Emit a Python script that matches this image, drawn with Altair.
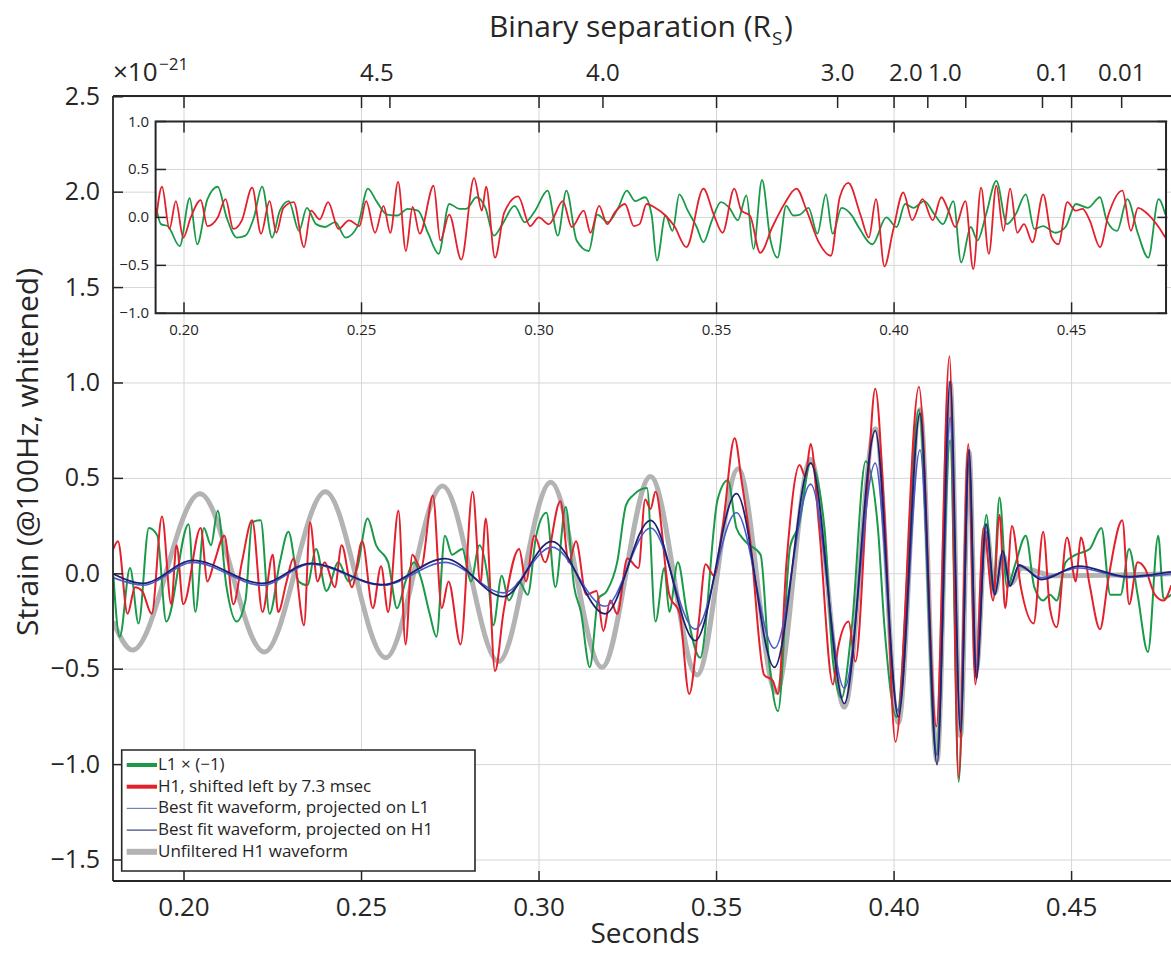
import altair as alt
import pandas as pd

FONT = "Open Sans"
INK = "#262626"
GRID = "#d6d6d6"

SERIES = ["L1 × (−1)", "H1, shifted left by 7.3 msec",
          "Best fit waveform, projected on L1", "Best fit waveform, projected on H1",
          "Unfiltered H1 waveform"]
COLORS = ["#1a9a48", "#e3202b", "#4a5cc4", "#1f2072", "#b3b3b3"]
WIDTHS = [2.0, 2.0, 1.6, 1.8, 5.0]
LEGEND_COLORS = ["#1a9a48", "#e3202b", "#7180c2", "#3d4080", "#b3b3b3"]
LEGEND_WIDTHS = [4.0, 4.0, 1.2, 1.2, 6.0]

# ---- main panel (seconds, strain x1e-21) ----
L1_MAIN = [(0.1801,-0.01),(0.1819,-0.33),(0.1848,0.03),(0.1872,-0.26),(0.1901,0.24),(0.1925,0.20),(0.1950,-0.25),(0.2013,0.26),(0.2032,-0.20),(0.2056,0.24),(0.2076,0.15),(0.2095,0.33),(0.2119,-0.06),(0.2148,-0.25),(0.2173,-0.14),(0.2192,0.27),(0.2216,0.28),(0.2241,-0.21),(0.2270,0.06),(0.2294,0.22),(0.2323,-0.04),(0.2347,-0.06),(0.2372,0.13),(0.2401,-0.09),(0.2435,0.06),(0.2464,-0.04),(0.2488,0.03),(0.2517,0.29),(0.2541,0.15),(0.2575,0.06),(0.2600,-0.18),(0.2624,-0.04),(0.2648,0.06),(0.2667,-0.02),(0.2692,-0.21),(0.2711,-0.33),(0.2735,0.20),(0.2755,0.10),(0.2784,0.13),(0.2808,-0.04),(0.2832,0.15),(0.2857,-0.04),(0.2871,-0.27),(0.2895,-0.01),(0.2915,-0.14),(0.2944,-0.04),(0.2968,-0.11),(0.2992,0.20),(0.3021,0.32),(0.3046,-0.07),(0.3075,0.35),(0.3099,-0.07),(0.3118,-0.20),(0.3143,-0.49),(0.3167,-0.13),(0.3191,-0.09),(0.3220,0.06),(0.3245,0.36),(0.3264,0.41),(0.3304,0.45),(0.3328,-0.25),(0.3353,0.03),(0.3367,-0.20),(0.3391,0.06),(0.3416,-0.20),(0.3454,-0.44),(0.3503,0.39),(0.3532,0.49),(0.3556,0.24),(0.3581,0.17),(0.3624,0.10),(0.3648,-0.46),(0.3673,-0.72),(0.3707,0.14),(0.3731,0.25),(0.3765,0.58),(0.3804,0.24),(0.3828,-0.46),(0.3852,-0.65),(0.3881,-0.28),(0.3920,0.59),(0.3954,0.25),(0.3973,-0.28),(0.4007,-0.75),(0.4070,0.86),(0.4119,-0.95),(0.4158,0.70),(0.4182,-1.09),(0.4211,0.58),(0.4230,-0.54),(0.4260,0.31),(0.4279,-0.09),(0.4297,0.40),(0.4318,-0.07),(0.4343,0.06),(0.4371,0.20),(0.4395,-0.07),(0.4420,-0.14),(0.4439,-0.11),(0.4458,-0.14),(0.4483,0.06),(0.4512,0.10),(0.4551,0.13),(0.4584,0.24),(0.4609,-0.11),(0.4638,-0.11),(0.4662,0.13),(0.4686,-0.11),(0.4715,-0.41),(0.4744,0.20),(0.4759,-0.13),(0.4781,-0.11)]

H1_MAIN = [(0.1801,0.13),(0.1814,0.17),(0.1841,-0.21),(0.1862,-0.07),(0.1882,-0.09),(0.1909,-0.21),(0.1938,0.30),(0.1964,-0.16),(0.1979,0.15),(0.1998,-0.16),(0.2047,0.24),(0.2066,-0.04),(0.2085,0.06),(0.2114,0.20),(0.2139,-0.16),(0.2163,0.06),(0.2192,0.28),(0.2221,-0.20),(0.2250,0.10),(0.2265,-0.20),(0.2289,-0.04),(0.2308,0.08),(0.2338,-0.27),(0.2355,0.27),(0.2376,-0.04),(0.2396,0.06),(0.2425,-0.07),(0.2444,0.15),(0.2473,-0.07),(0.2502,0.17),(0.2532,-0.18),(0.2555,0.04),(0.2575,-0.20),(0.2604,0.33),(0.2624,-0.37),(0.2643,0.10),(0.2667,0.03),(0.2701,0.41),(0.2726,-0.18),(0.2745,-0.04),(0.2779,-0.37),(0.2813,0.43),(0.2835,-0.05),(0.2850,0.29),(0.2876,-0.51),(0.2900,-0.20),(0.2944,0.13),(0.2963,-0.04),(0.2987,0.20),(0.3017,0.06),(0.3060,0.38),(0.3084,0.06),(0.3104,0.17),(0.3133,-0.11),(0.3162,-0.09),(0.3181,-0.30),(0.3201,-0.14),(0.3220,-0.21),(0.3249,0.08),(0.3280,0.03),(0.3299,0.39),(0.3314,0.34),(0.3328,0.43),(0.3367,-0.11),(0.3396,-0.21),(0.3423,-0.63),(0.3450,-0.25),(0.3469,0.05),(0.3493,-0.01),(0.3517,0.24),(0.3551,0.71),(0.3571,0.48),(0.3595,0.17),(0.3634,-0.53),(0.3658,-0.56),(0.3673,-0.63),(0.3697,0.06),(0.3734,0.57),(0.3750,0.51),(0.3765,0.68),(0.3789,0.24),(0.3828,-0.58),(0.3842,-0.39),(0.3872,-0.25),(0.3891,-0.46),(0.3925,0.45),(0.3947,0.97),(0.3973,0.31),(0.4004,-0.88),(0.4070,0.98),(0.4119,-0.80),(0.4156,1.14),(0.4182,-1.07),(0.4209,0.68),(0.4229,-0.58),(0.4252,0.24),(0.4279,-0.14),(0.4297,0.31),(0.4313,-0.18),(0.4332,0.25),(0.4357,-0.07),(0.4393,-0.26),(0.4420,0.22),(0.4439,-0.18),(0.4458,-0.28),(0.4487,0.19),(0.4512,-0.04),(0.4526,0.19),(0.4551,-0.06),(0.4580,-0.29),(0.4604,-0.02),(0.4643,0.28),(0.4662,-0.16),(0.4686,0.06),(0.4706,0.03),(0.4735,-0.11),(0.4759,-0.14),(0.4781,-0.06)]

FIT_L1 = [(0.1800,-0.02),(0.1885,-0.06),(0.2025,0.06),(0.2220,-0.06),(0.2357,0.05),(0.2560,-0.06),(0.2735,0.06),(0.2900,-0.10),(0.3036,0.14),(0.3186,-0.17),(0.3314,0.24),(0.3440,-0.29),(0.3556,0.32),(0.3663,-0.39),(0.3765,0.47),(0.3860,-0.60),(0.3947,0.58),(0.4012,-0.72),(0.4073,0.65),(0.4121,-0.95),(0.4158,0.82),(0.4187,-0.80),(0.4211,0.60),(0.4232,-0.50),(0.4259,0.22),(0.4284,-0.10),(0.4306,0.10),(0.4327,-0.06),(0.4352,0.04),(0.4415,-0.02),(0.4520,0.03),(0.4657,-0.02),(0.4780,0.00)]

FIT_H1 = [(0.1800,0.00),(0.1885,-0.05),(0.2025,0.07),(0.2220,-0.05),(0.2357,0.055),(0.2560,-0.057),(0.2735,0.08),(0.2900,-0.12),(0.3036,0.17),(0.3186,-0.21),(0.3314,0.28),(0.3440,-0.35),(0.3556,0.42),(0.3663,-0.49),(0.3765,0.58),(0.3860,-0.68),(0.3947,0.75),(0.4012,-0.75),(0.4073,0.84),(0.4121,-1.00),(0.4158,1.01),(0.4187,-0.83),(0.4211,0.65),(0.4232,-0.55),(0.4259,0.26),(0.4284,-0.11),(0.4306,0.12),(0.4327,-0.065),(0.4352,0.047),(0.4415,-0.03),(0.4520,0.04),(0.4657,-0.015),(0.4780,0.01)]

UNFILTERED_H1 = [(0.1800,-0.25),(0.1855,-0.40),(0.2045,0.42),(0.2226,-0.41),(0.2398,0.43),(0.2568,-0.44),(0.2728,0.46),(0.2886,-0.46),(0.3033,0.48),(0.3177,-0.49),(0.3314,0.51),(0.3445,-0.53),(0.3561,0.55),(0.3668,-0.62),(0.3765,0.60),(0.3860,-0.70),(0.3947,0.76),(0.4012,-0.78),(0.4073,0.86),(0.4121,-0.98),(0.4158,1.00),(0.4187,-0.85),(0.4211,0.64),(0.4232,-0.50),(0.4259,0.25),(0.4284,-0.10),(0.4306,0.10),(0.4330,-0.05),(0.4360,0.03),(0.4450,-0.01),(0.4780,0.00)]

# ---- inset panel (its own -1..1 scale) ----
L1_INSET = [(0.1922,0.10),(0.1935,-0.07),(0.1954,-0.09),(0.1988,-0.30),(0.2016,0.20),(0.2037,-0.28),(0.2066,0.19),(0.2095,0.32),(0.2120,0.00),(0.2149,-0.21),(0.2173,-0.19),(0.2197,0.00),(0.2220,0.32),(0.2248,-0.21),(0.2270,0.07),(0.2295,0.17),(0.2324,-0.14),(0.2346,0.10),(0.2372,-0.07),(0.2397,-0.10),(0.2426,-0.05),(0.2455,-0.21),(0.2489,-0.09),(0.2518,0.30),(0.2542,0.17),(0.2572,0.03),(0.2601,0.02),(0.2630,0.09),(0.2659,0.07),(0.2688,-0.17),(0.2717,-0.38),(0.2747,0.14),(0.2776,0.09),(0.2795,0.09),(0.2824,0.21),(0.2849,0.10),(0.2873,-0.19),(0.2897,-0.07),(0.2931,0.12),(0.2960,-0.05),(0.2989,0.07),(0.3024,0.28),(0.3053,-0.19),(0.3077,0.28),(0.3106,-0.24),(0.3140,-0.35),(0.3164,0.03),(0.3194,-0.05),(0.3223,0.10),(0.3247,0.28),(0.3271,0.17),(0.3298,0.21),(0.3317,0.03),(0.3332,-0.45),(0.3356,0.02),(0.3376,-0.14),(0.3395,0.24),(0.3419,0.07),(0.3444,-0.10),(0.3463,-0.26),(0.3487,-0.03),(0.3512,0.16),(0.3536,0.10),(0.3560,-0.03),(0.3584,0.23),(0.3604,-0.33),(0.3628,0.39),(0.3652,-0.24),(0.3672,-0.42),(0.3696,0.12),(0.3716,0.02),(0.3735,0.03),(0.3759,0.10),(0.3784,-0.17),(0.3808,0.24),(0.3827,-0.17),(0.3852,0.10),(0.3881,0.02),(0.3900,-0.10),(0.3939,-0.28),(0.3978,0.00),(0.4007,-0.10),(0.4031,0.14),(0.4055,0.10),(0.4085,0.17),(0.4114,0.03),(0.4138,-0.07),(0.4167,0.17),(0.4189,-0.47),(0.4216,-0.10),(0.4235,-0.24),(0.4259,0.03),(0.4288,0.38),(0.4318,-0.07),(0.4342,0.03),(0.4371,0.24),(0.4395,-0.12),(0.4420,-0.09),(0.4454,-0.16),(0.4483,-0.10),(0.4512,0.14),(0.4546,0.10),(0.4580,0.21),(0.4599,-0.03),(0.4628,-0.14),(0.4657,0.19),(0.4687,-0.17),(0.4716,-0.42),(0.4745,0.19),(0.4764,0.03)]

H1_INSET = [(0.1922,0.00),(0.1938,0.32),(0.1959,-0.12),(0.1977,0.17),(0.1998,-0.21),(0.2019,0.00),(0.2047,0.18),(0.2066,-0.09),(0.2095,0.00),(0.2117,0.19),(0.2139,-0.12),(0.2163,-0.03),(0.2192,0.31),(0.2217,-0.17),(0.2241,0.17),(0.2260,-0.16),(0.2280,0.10),(0.2309,0.16),(0.2338,-0.31),(0.2358,0.07),(0.2382,-0.02),(0.2406,0.16),(0.2435,-0.12),(0.2465,-0.03),(0.2494,-0.09),(0.2513,0.17),(0.2538,-0.16),(0.2562,0.12),(0.2581,-0.16),(0.2603,0.37),(0.2625,-0.35),(0.2644,0.11),(0.2664,-0.17),(0.2703,0.33),(0.2722,-0.24),(0.2747,0.03),(0.2781,-0.44),(0.2817,0.41),(0.2839,0.07),(0.2851,0.32),(0.2876,-0.42),(0.2902,0.05),(0.2941,0.22),(0.2975,-0.09),(0.2999,0.00),(0.3028,-0.07),(0.3067,0.17),(0.3092,-0.10),(0.3126,0.07),(0.3145,-0.16),(0.3169,0.12),(0.3192,-0.07),(0.3213,0.05),(0.3242,0.14),(0.3267,-0.09),(0.3283,-0.07),(0.3303,0.14),(0.3327,0.10),(0.3356,0.02),(0.3381,-0.09),(0.3415,-0.31),(0.3463,0.30),(0.3492,0.03),(0.3517,-0.16),(0.3550,0.30),(0.3570,0.07),(0.3594,0.02),(0.3623,-0.37),(0.3657,-0.10),(0.3691,0.14),(0.3725,0.30),(0.3754,0.07),(0.3788,-0.26),(0.3822,-0.40),(0.3847,0.21),(0.3871,0.36),(0.3905,0.03),(0.3929,-0.21),(0.3949,0.19),(0.3973,-0.51),(0.3997,-0.14),(0.4026,0.26),(0.4051,-0.03),(0.4080,0.19),(0.4109,-0.03),(0.4133,0.21),(0.4153,0.07),(0.4172,-0.10),(0.4201,0.17),(0.4223,-0.54),(0.4245,0.31),(0.4267,-0.38),(0.4288,0.33),(0.4308,-0.14),(0.4327,0.30),(0.4347,-0.16),(0.4366,-0.07),(0.4390,-0.26),(0.4420,0.24),(0.4444,-0.21),(0.4463,-0.28),(0.4488,0.16),(0.4512,0.07),(0.4531,0.09),(0.4551,-0.03),(0.4580,-0.31),(0.4604,0.03),(0.4643,0.28),(0.4667,-0.14),(0.4687,0.10),(0.4716,0.03),(0.4745,-0.10),(0.4764,-0.21)]

# ---- axes / ticks ----
X_TICKS = [0.20, 0.25, 0.30, 0.35, 0.40, 0.45]
Y_TICKS = [-1.5, -1.0, -0.5, 0.0, 0.5, 1.0, 1.5, 2.0, 2.5]
INSET_Y_TICKS = [-1.0, -0.5, 0.0, 0.5, 1.0]
INSET_GRID_Y = [-0.5, 0.0, 0.5]
SEP_TICK_T = [0.2580, 0.3180, 0.3841, 0.4095, 0.4202, 0.4418, 0.4641]
SEP_LABEL_T = [0.2543, 0.3180, 0.3841, 0.4033, 0.4143, 0.4447, 0.4641]
SEP_LABELS = ["4.5", "4.0", "3.0", "2.0", "1.0", "0.1", "0.01"]

X_DOMAIN = [0.18, 0.478]
Y_DOMAIN = [-1.61, 2.504]
INSET_X = [0.192, 0.4766]
INSET_Y = [-1.0, 1.0]
# the inset's own y axis, expressed on the main y scale: centre and gain
INSET_CENTER = 1.8677
INSET_GAIN = 0.5026

W, H = 1058, 785
IN_L, IN_R, IN_T, IN_B = 43, 1054.3, 25.5, 217.3  # inset frame, plot pixels (for tick marks)
LEG_BOX = (8.7, 362, 654, 775)   # legend box in plot pixels
LEG_ROW0, LEG_ROW_STEP = 669, 21.7


def frame(name, pts):
    return pd.DataFrame({"t": [p[0] for p in pts], "v": [p[1] for p in pts], "series": name})


def inset_y(field):
    return f"{INSET_CENTER} + {INSET_GAIN} * datum.{field}"


def fmt(v, d):
    return f"{v:.{d}f}".replace("-", "−")


xs = alt.Scale(domain=X_DOMAIN, nice=False, zero=False)
ys = alt.Scale(domain=Y_DOMAIN, nice=False, zero=False)
X = lambda f="t": alt.X(f"{f}:Q", scale=xs, axis=None)
Y = lambda f="v": alt.Y(f"{f}:Q", scale=ys, axis=None)


def main_line(i, pts):
    return alt.Chart(frame(SERIES[i], pts)).mark_line(
        interpolate="monotone", clip=True, strokeJoin="round",
        color=COLORS[i], strokeWidth=WIDTHS[i]).encode(x=X(), y=Y())


xt = pd.DataFrame({"t": X_TICKS, "label": [fmt(t, 2) for t in X_TICKS]})
yt = pd.DataFrame({"v": Y_TICKS, "label": [fmt(v, 1) for v in Y_TICKS]})
sep_t = pd.DataFrame({"t": SEP_TICK_T})
sep_l = pd.DataFrame({"t": SEP_LABEL_T, "label": SEP_LABELS})
one = pd.DataFrame({"k": [0]})

# grid
grid_v = alt.Chart(xt).mark_rule(color=GRID, strokeWidth=1).encode(x=X(), y=alt.value(0), y2=alt.value(H))
grid_h = alt.Chart(yt).mark_rule(color=GRID, strokeWidth=1).encode(y=Y(), x=alt.value(0), x2=alt.value(W))

main_lines = [
    main_line(4, UNFILTERED_H1),
    main_line(0, L1_MAIN),
    main_line(1, H1_MAIN),
    main_line(2, FIT_L1),
    main_line(3, FIT_H1),
]

tick_style = dict(color=INK, strokeWidth=1.5)
frame_lines = [
    alt.Chart(one).mark_rule(color=INK, strokeWidth=1.8).encode(
        x=alt.value(0), y=alt.value(0), y2=alt.value(H)),
    alt.Chart(one).mark_rule(color=INK, strokeWidth=1.8).encode(
        y=alt.value(H), x=alt.value(0), x2=alt.value(W)),
    alt.Chart(one).mark_rule(color=INK, strokeWidth=2).encode(
        y=alt.value(0), x=alt.value(0), x2=alt.value(W)),
]
ticks = [
    alt.Chart(xt).mark_rule(**tick_style).encode(x=X(), y=alt.value(H), y2=alt.value(H - 10)),
    alt.Chart(xt).mark_rule(**tick_style).encode(x=X(), y=alt.value(0), y2=alt.value(12)),
    alt.Chart(sep_t).mark_rule(**tick_style).encode(x=X(), y=alt.value(0), y2=alt.value(12)),
    alt.Chart(yt).mark_rule(**tick_style).encode(y=Y(), x=alt.value(0), x2=alt.value(10)),
]
axis_text = [
    alt.Chart(xt).mark_text(font=FONT, fontSize=26, color=INK, baseline="middle").encode(
        x=X(), y=alt.value(H + 27), text="label:N"),
    alt.Chart(yt).mark_text(font=FONT, fontSize=25, color=INK, align="right", baseline="middle").encode(
        y=Y(), x=alt.value(-13), text="label:N"),
    alt.Chart(sep_l).mark_text(font=FONT, fontSize=24, color=INK, baseline="alphabetic").encode(
        x=X(), y=alt.value(-15), text="label:N"),
]


def label(txt, x, y, size, align="left", angle=0, baseline="alphabetic"):
    return alt.Chart(pd.DataFrame({"s": [txt]})).mark_text(
        font=FONT, fontSize=size, color=INK, align=align, baseline=baseline, angle=angle).encode(
        x=alt.value(x), y=alt.value(y), text="s:N")


titles = [
    label("Seconds", 532, 839, 28, "center", baseline="middle"),
    label("Strain (@100Hz, whitened)", -84, 356, 30, "center", angle=270, baseline="middle"),
    label("Binary separation (R", 658, -59, 30, "right"),
    label("S", 659, -51, 19),
    label(")", 671, -59, 30),
    label("×10", 0, -15, 26),
    label("−21", 46, -26, 17),
]

# ---- legend (box, line samples and labels) ----
legend_layers = [
    alt.Chart(one).mark_rect(fill="white", stroke=INK, strokeWidth=1.6).encode(
        x=alt.value(LEG_BOX[0]), x2=alt.value(LEG_BOX[1]),
        y=alt.value(LEG_BOX[2]), y2=alt.value(LEG_BOX[3]))
]
for i, name in enumerate(SERIES):
    row_y = LEG_ROW0 + i * LEG_ROW_STEP
    legend_layers.append(
        alt.Chart(one).mark_rule(color=LEGEND_COLORS[i], strokeWidth=LEGEND_WIDTHS[i]).encode(
            x=alt.value(13.7), x2=alt.value(44), y=alt.value(row_y)))
    legend_layers.append(label(name, 45, row_y, 17, baseline="middle"))

# ---- inset ----
box = pd.DataFrame({"x0": [INSET_X[0]], "x1": [INSET_X[1]], "y0": [INSET_Y[0]], "y1": [INSET_Y[1]]})
inset_bg = alt.Chart(box).transform_calculate(m0=inset_y("y0"), m1=inset_y("y1")).mark_rect(
    fill="white").encode(x=X("x0"), x2="x1:Q", y=Y("m0"), y2="m1:Q")
inset_vgrid = alt.Chart(pd.DataFrame({"t": X_TICKS, "y0": INSET_Y[0], "y1": INSET_Y[1]})).transform_calculate(
    m0=inset_y("y0"), m1=inset_y("y1")).mark_rule(color=GRID, strokeWidth=1).encode(
    x=X(), y=Y("m0"), y2="m1:Q")
inset_hgrid = alt.Chart(pd.DataFrame({"v": INSET_GRID_Y, "x0": INSET_X[0], "x1": INSET_X[1]})).transform_calculate(
    m=inset_y("v")).mark_rule(color=GRID, strokeWidth=1).encode(y=Y("m"), x=X("x0"), x2="x1:Q")


def inset_line(pts, color):
    return alt.Chart(frame("x", pts)).transform_calculate(m=inset_y("v")).mark_line(
        interpolate="monotone", color=color, strokeWidth=1.8, clip=True).encode(x=X(), y=Y("m"))


inset_frame = alt.Chart(box).transform_calculate(m0=inset_y("y0"), m1=inset_y("y1")).mark_rect(
    fillOpacity=0, stroke=INK, strokeWidth=2).encode(x=X("x0"), x2="x1:Q", y=Y("m0"), y2="m1:Q")
iyt = pd.DataFrame({"v": INSET_Y_TICKS, "label": [fmt(v, 1) for v in INSET_Y_TICKS]})
ixt = pd.DataFrame({"t": X_TICKS, "v": INSET_Y[0], "label": [fmt(t, 2) for t in X_TICKS]})
in_ticks = [
    alt.Chart(xt).mark_rule(**tick_style).encode(x=X(), y=alt.value(IN_B), y2=alt.value(IN_B - 11)),
    alt.Chart(xt).mark_rule(**tick_style).encode(x=X(), y=alt.value(IN_T), y2=alt.value(IN_T + 11)),
    alt.Chart(iyt).transform_calculate(m=inset_y("v")).mark_rule(**tick_style).encode(
        y=Y("m"), x=alt.value(IN_L), x2=alt.value(IN_L + 10)),
    alt.Chart(iyt).transform_calculate(m=inset_y("v")).mark_rule(**tick_style).encode(
        y=Y("m"), x=alt.value(IN_R), x2=alt.value(IN_R - 10)),
]
in_labels = [
    alt.Chart(iyt).transform_calculate(m=inset_y("v")).mark_text(
        font=FONT, fontSize=15, color=INK, align="right", baseline="middle").encode(
        y=Y("m"), x=alt.value(IN_L - 7), text="label:N"),
    alt.Chart(ixt).transform_calculate(m=inset_y("v")).mark_text(
        font=FONT, fontSize=15, color=INK, align="center", baseline="middle", dy=17).encode(
        x=X(), y=Y("m"), text="label:N"),
]

chart = alt.layer(
    grid_v, grid_h, *main_lines, *frame_lines, *ticks, *axis_text, *titles,
    inset_bg, inset_vgrid, inset_hgrid,
    inset_line(L1_INSET, COLORS[0]), inset_line(H1_INSET, COLORS[1]),
    inset_frame, *in_ticks, *in_labels, *legend_layers,
).properties(
    width=W, height=H, background="white",
    padding={"left": 113, "top": 96, "right": 0, "bottom": 72},
    autosize=alt.AutoSizeParams(type="none"),
).configure_view(stroke=None)

chart.save("out.html", embed_options={"renderer": "svg", "actions": False})
